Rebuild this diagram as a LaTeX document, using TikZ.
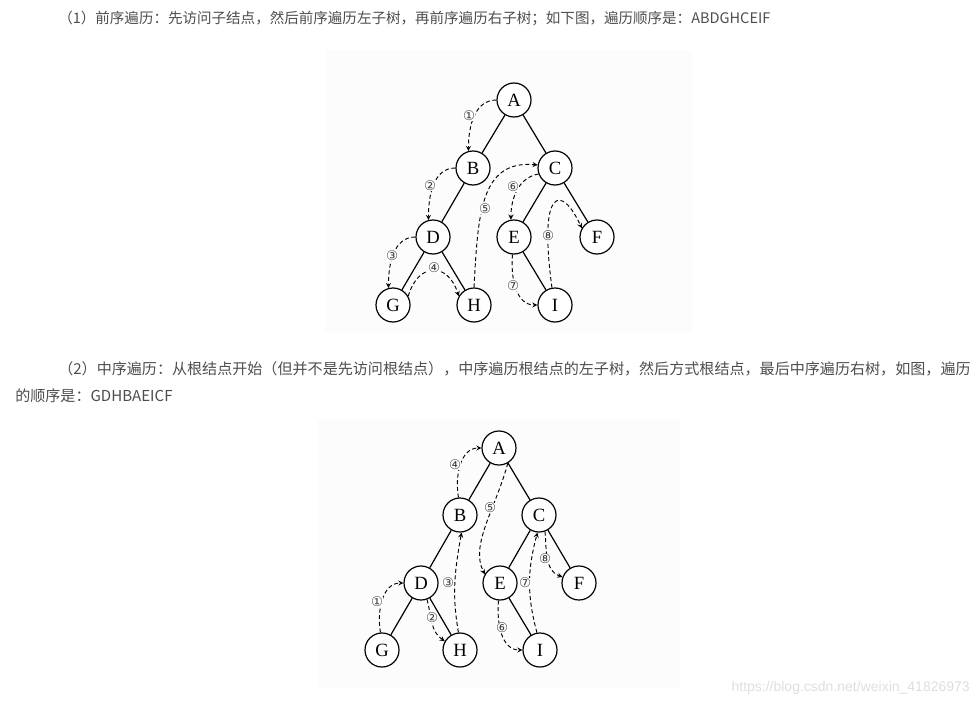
\documentclass[tikz,border=0pt]{standalone}
\usepackage{fontspec}
\setmainfont{Liberation Serif}
\newfontfamily\cjk{Noto Sans CJK SC}
\newfontfamily\dejavu{DejaVu Sans}
\newfontfamily\wmfont{Liberation Sans}
\definecolor{txtgray}{HTML}{4D4D4D}

\begin{document}
\begin{tikzpicture}[x=0.75pt,y=0.75pt,
    vtx/.style={circle,draw,line width=0.9pt,minimum size=25.5pt,inner sep=0pt,fill=white,font=\fontsize{14}{14}\selectfont},
    walk/.style={densely dashed,line width=0.7pt,-stealth},
    num/.style={inner sep=0.3pt,fill=white,text=black!75,font=\dejavu\fontsize{10}{10}\selectfont},
    para/.style={anchor=west,inner sep=0pt,text=txtgray,font=\cjk\fontsize{11.3}{12}\selectfont}]
  \useasboundingbox (0,0) rectangle (980,-706);

  \node[para,font=\cjk\fontsize{10.9}{12}\selectfont] (t1) at (58,-18) {（1）前序遍历：先访问子结点，然后前序遍历左子树，再前序遍历右子树；如下图，遍历顺序是：ABDGHCEIF};
  \node[para] (t2) at (58,-369) {（2）中序遍历：从根结点开始（但并不是先访问根结点），中序遍历根结点的左子树，然后方式根结点，最后中序遍历右树，如图，遍历};
  \node[para] (t3) at (15,-396) {的顺序是：GDHBAEICF};

  % scanned pictures
  \path[fill=black!1.2] (325,-50) rectangle (692,-332);
  \path[fill=black!1.2] (318,-420) rectangle (680,-688);

  % preorder tree
  \node[vtx] (A1) at (514,-100) {A};
  \node[vtx] (B1) at (473,-168) {B};
  \node[vtx] (C1) at (555,-168) {C};
  \node[vtx] (D1) at (433,-237) {D};
  \node[vtx] (E1) at (514,-237) {E};
  \node[vtx] (F1) at (597,-237) {F};
  \node[vtx] (G1) at (393,-305) {G};
  \node[vtx] (H1) at (474,-305) {H};
  \node[vtx] (I1) at (555,-305) {I};
  \draw[line width=0.9pt] (A1) -- (B1) (A1) -- (C1) (B1) -- (D1) (D1) -- (G1) (D1) -- (H1)
    (C1) -- (E1) (C1) -- (F1) (E1) -- (I1);

  \draw[walk] (A1.west) to[out=180,in=90] (B1.105);
  \draw[walk] (B1.west) to[out=180,in=90] (D1.105);
  \draw[walk] (D1.west) to[out=180,in=90] (G1.105);
  \draw[walk] (G1.30) .. controls (418,-262) and (448,-262) .. (H1.150);
  \draw[walk] (H1.north) .. controls (478,-215) and (480,-160) .. (C1.170);
  \draw[walk] (C1.200) to[out=190,in=90] (E1.100);
  \draw[walk] (E1.265) to[out=265,in=180] (I1.west);
  \draw[walk] (I1.100) .. controls (538,-185) and (562,-185) .. (F1.150);
  \node[num] (n1) at (469,-116) {①};
  \node[num] (n2) at (430,-186) {②};
  \node[num] (n3) at (392,-256) {③};
  \node[num] (n4) at (434,-268) {④};
  \node[num] (n5) at (485,-209) {⑤};
  \node[num] (n6) at (513,-187) {⑥};
  \node[num] (n7) at (513,-286) {⑦};
  \node[num] (n8) at (548,-236) {⑧};

  % inorder tree
  \node[vtx] (A2) at (499,-448) {A};
  \node[vtx] (B2) at (460,-515) {B};
  \node[vtx] (C2) at (539,-515) {C};
  \node[vtx] (D2) at (421,-583) {D};
  \node[vtx] (E2) at (500,-583) {E};
  \node[vtx] (F2) at (579,-583) {F};
  \node[vtx] (G2) at (382,-650) {G};
  \node[vtx] (H2) at (460,-650) {H};
  \node[vtx] (I2) at (540,-650) {I};
  \draw[line width=0.9pt] (A2) -- (B2) (A2) -- (C2) (B2) -- (D2) (D2) -- (G2) (D2) -- (H2)
    (C2) -- (E2) (C2) -- (F2) (E2) -- (I2);

  \draw[walk] (G2.95) to[out=100,in=180] (D2.west);
  \draw[walk] (D2.290) to[out=-75,in=145] (H2.150);
  \draw[walk] (H2.95) to[out=100,in=-100] (B2.275);
  \draw[walk] (B2.95) to[out=100,in=180] (A2.west);
  \draw[walk] (A2.300) .. controls (495,-510) and (470,-545) .. (E2.150);
  \draw[walk] (E2.265) to[out=-95,in=180] (I2.west);
  \draw[walk] (I2.100) to[out=105,in=-105] (C2.265);
  \draw[walk] (C2.290) to[out=-85,in=160] (F2.160);
  \node[num] (m1) at (377,-602) {①};
  \node[num] (m2) at (432,-618) {②};
  \node[num] (m3) at (448,-583) {③};
  \node[num] (m4) at (455,-465) {④};
  \node[num] (m5) at (490,-508) {⑤};
  \node[num] (m6) at (502,-628) {⑥};
  \node[num] (m7) at (525,-583) {⑦};
  \node[num] (m8) at (545,-559) {⑧};

  \node[anchor=east,inner sep=0pt,text=black!13,font=\wmfont\fontsize{10.5}{12}\selectfont] (wm) at (970,-688) {https://blog.csdn.net/weixin\_41826973};
\end{tikzpicture}
\end{document}
